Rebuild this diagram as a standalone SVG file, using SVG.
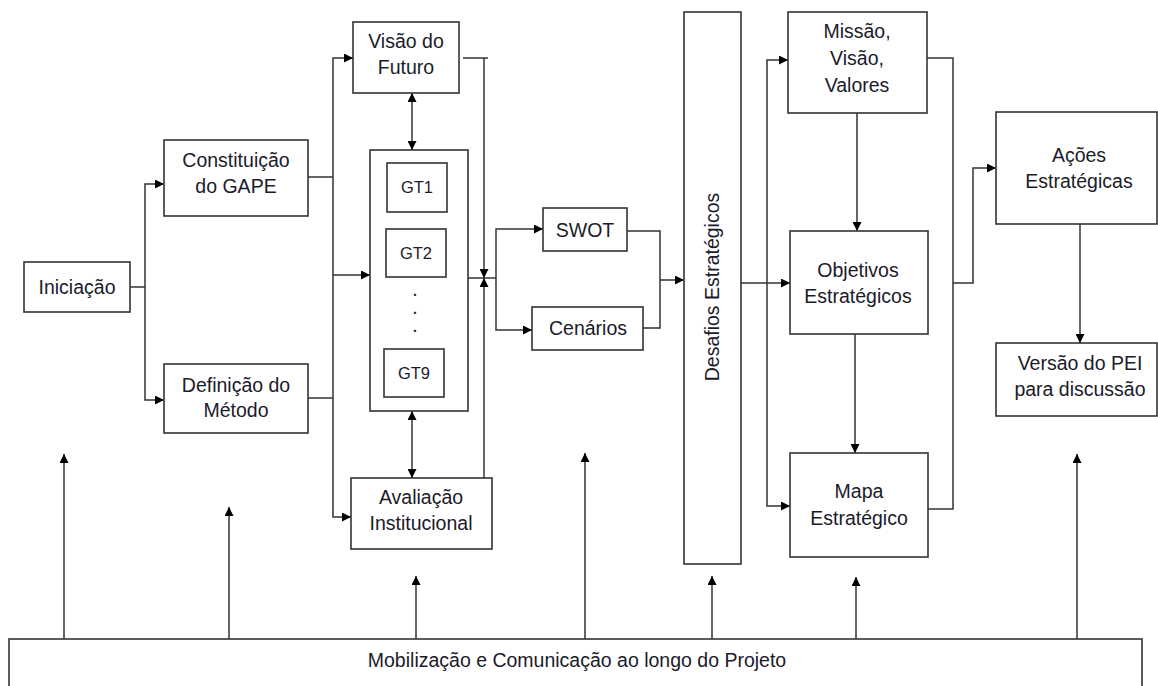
<svg xmlns="http://www.w3.org/2000/svg" width="1158" height="686" viewBox="0 0 1158 686">
<defs>
<marker id="ah" viewBox="0 0 10 10" refX="10" refY="5" markerWidth="9" markerHeight="9" markerUnits="userSpaceOnUse" orient="auto-start-reverse">
<path d="M0,0 L10,5 L0,10 Z" fill="#000"/>
</marker>
<style>
.box{fill:#fff;stroke:#333;stroke-width:1.6}
.t{font-family:"Liberation Sans",Arial,sans-serif;font-size:19.5px;fill:#1b1b2a;text-anchor:middle}
.gt{font-size:16.5px}
.dot{font-size:14px;font-weight:bold}
.c{fill:none;stroke:#333;stroke-width:1.5}
.a{fill:none;stroke:#333;stroke-width:1.5;marker-end:url(#ah)}
.b{fill:none;stroke:#333;stroke-width:1.5;marker-end:url(#ah);marker-start:url(#ah)}
</style>
</defs>
<rect width="1158" height="686" fill="#fff"/>

<g id="connectors">
<path class="c" d="M130,287 H145"/>
<path class="a" d="M145,287 V184 H164"/>
<path class="a" d="M145,287 V400 H164"/>
<path class="c" d="M308,177 H333"/>
<path class="c" d="M308,398 H333"/>
<path class="a" d="M333,275 V58 H353"/>
<path class="a" d="M333,275 H370"/>
<path class="a" d="M333,275 V517 H351"/>
<path class="b" d="M412,93 V150"/>
<path class="b" d="M412,411 V478"/>
<path class="c" d="M463,58 H488"/>
<path class="a" d="M484,58 V278"/>
<path class="a" d="M484,478 V278"/>
<path class="c" d="M468,278 H496"/>
<path class="a" d="M496,278 V229 H543"/>
<path class="a" d="M496,278 V330 H532"/>
<path class="c" d="M615,231 H660 V280"/>
<path class="c" d="M643,328 H660 V280"/>
<path class="a" d="M660,280 H684"/>
<path class="a" d="M741,283 H790"/>
<path class="a" d="M767,283 V60 H788"/>
<path class="a" d="M767,283 V506 H790"/>
<path class="a" d="M857,113 V231"/>
<path class="a" d="M855,334 V453"/>
<path class="c" d="M927,58 H953 V509 H928"/>
<path class="a" d="M953,283 H973 V168 H996"/>
<path class="a" d="M1080,224 V343"/>
<path class="a" d="M64,639 V454"/>
<path class="a" d="M229,639 V507"/>
<path class="a" d="M416,639 V576"/>
<path class="a" d="M585,639 V453"/>
<path class="a" d="M712,639 V576"/>
<path class="a" d="M856,639 V577"/>
<path class="a" d="M1077,639 V454"/>
</g>

<g id="iniciacao"><rect class="box" x="24" y="262" width="106" height="50"/><text class="t" x="77" y="294">Iniciação</text></g>
<g id="constituicao"><rect class="box" x="164" y="140" width="144" height="76"/><text class="t" x="236" y="167">Constituição</text><text class="t" x="236" y="193">do GAPE</text></g>
<g id="definicao"><rect class="box" x="164" y="364" width="144" height="69"/><text class="t" x="236" y="392">Definição do</text><text class="t" x="236" y="417">Método</text></g>
<g id="visao"><rect class="box" x="353" y="22" width="106" height="71"/><text class="t" x="406" y="48">Visão do</text><text class="t" x="406" y="74">Futuro</text></g>
<g id="gt-container"><rect class="box" x="370" y="150" width="98" height="261"/>
<text class="t dot" x="415" y="296">.</text><text class="t dot" x="415" y="314">.</text><text class="t dot" x="415" y="332">.</text></g>
<g id="gt1"><rect class="box" x="387" y="163" width="60" height="49"/><text class="t gt" x="417" y="193">GT1</text></g>
<g id="gt2"><rect class="box" x="386" y="229" width="60" height="48"/><text class="t gt" x="416" y="259">GT2</text></g>
<g id="gt9"><rect class="box" x="384" y="349" width="60" height="48"/><text class="t gt" x="414" y="379">GT9</text></g>
<g id="avaliacao"><rect class="box" x="351" y="478" width="141" height="71"/><text class="t" x="421" y="504">Avaliação</text><text class="t" x="421" y="530">Institucional</text></g>
<g id="swot"><rect class="box" x="543" y="208" width="84" height="43"/><text class="t" x="585" y="237">SWOT</text></g>
<g id="cenarios"><rect class="box" x="532" y="307" width="111" height="43"/><text class="t" x="588" y="335">Cenários</text></g>
<g id="desafios"><rect class="box" x="684" y="12" width="57" height="552"/><text class="t" transform="translate(719,287) rotate(-90)">Desafios Estratégicos</text></g>
<g id="missao"><rect class="box" x="788" y="12" width="139" height="101"/><text class="t" x="857" y="38">Missão,</text><text class="t" x="857" y="65">Visão,</text><text class="t" x="857" y="92">Valores</text></g>
<g id="objetivos"><rect class="box" x="790" y="231" width="138" height="103"/><text class="t" x="858" y="277">Objetivos</text><text class="t" x="858" y="303">Estratégicos</text></g>
<g id="mapa"><rect class="box" x="790" y="453" width="138" height="104"/><text class="t" x="859" y="498">Mapa</text><text class="t" x="859" y="525">Estratégico</text></g>
<g id="acoes"><rect class="box" x="996" y="112" width="161" height="112"/><text class="t" x="1079" y="162">Ações</text><text class="t" x="1079" y="188">Estratégicas</text></g>
<g id="versao"><rect class="box" x="996" y="343" width="161" height="73"/><text class="t" x="1080" y="370">Versão do PEI</text><text class="t" x="1080" y="396">para discussão</text></g>
<g id="mobilizacao"><rect class="box" x="9" y="639" width="1133" height="60"/><text class="t" x="577" y="667">Mobilização e Comunicação ao longo do Projeto</text></g>
</svg>
